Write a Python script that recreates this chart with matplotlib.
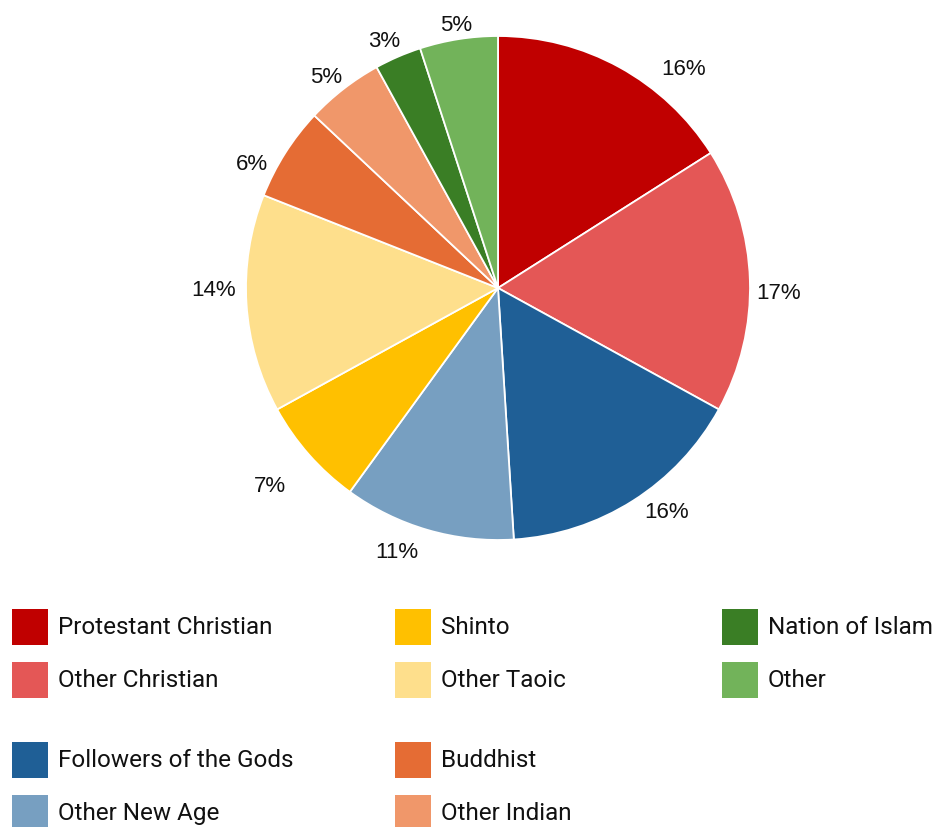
import numpy as np
import matplotlib.pyplot as plt
from matplotlib.patches import Rectangle

# religion shares, clockwise from 12 o'clock
groups = ["Protestant Christian", "Other Christian", "Followers of the Gods",
          "Other New Age", "Shinto", "Other Taoic", "Buddhist", "Other Indian",
          "Nation of Islam", "Other"]
shares = [16, 17, 16, 11, 7, 14, 6, 5, 3, 5]
colors = ["#C00000", "#E45756", "#1F5F96", "#779FC1", "#FFC000",
          "#FEDF8C", "#E56C34", "#F0976A", "#3A7E25", "#72B35A"]

# label placement: angular nudge (deg, clockwise) and radial distance
label_nudge = [11, 2, -5, 5, 1, 4, -5, -1, -1, 0]
label_dist = [1.15, 1.115, 1.10, 1.11, 1.19, 1.13, 1.10, 1.09, 1.09, 1.07]

# legend layout: (column, row) for each group
legend_slots = [(0, 0), (0, 1), (0, 2), (0, 3), (1, 0), (1, 1),
                (1, 2), (1, 3), (2, 0), (2, 1)]

W, H = 935, 828
fig = plt.figure(figsize=(W / 100, H / 100), dpi=100)

cx, cy, r = 498, 289, 252
ax = fig.add_axes([(cx - r) / W, (H - cy - r) / H, 2 * r / W, 2 * r / H])
wedges, _ = ax.pie(
    shares, colors=colors, startangle=90, counterclock=False, radius=1,
    wedgeprops=dict(edgecolor="white", linewidth=1.3),
)
for w, s, nudge, dist in zip(wedges, shares, label_nudge, label_dist):
    ang = np.deg2rad((w.theta1 + w.theta2) / 2 - nudge)
    ax.text(dist * np.cos(ang), dist * np.sin(ang) - 0.012, f"{s}%",
            ha="center", va="center", fontsize=16,
            family="Liberation Sans", color="#111111")
ax.set_xlim(-1, 1)
ax.set_ylim(-1, 1)
ax.set_aspect("equal")
ax.axis("off")

col_x = [12, 395, 722]
row_y = [628, 681, 761, 814]
box = 36
for name, color, (c, rw) in zip(groups, colors, legend_slots):
    x0, y0 = col_x[c], row_y[rw]
    fig.patches.append(Rectangle((x0 / W, (H - y0 - box / 2) / H), box / W, box / H,
                                 transform=fig.transFigure, facecolor=color,
                                 edgecolor="none"))
    fig.text((x0 + 46) / W, (H - y0) / H, name, ha="left", va="center",
             fontsize=17.5, family="Roboto", color="#111111")

fig.savefig("out.png", dpi=100, facecolor="white")
